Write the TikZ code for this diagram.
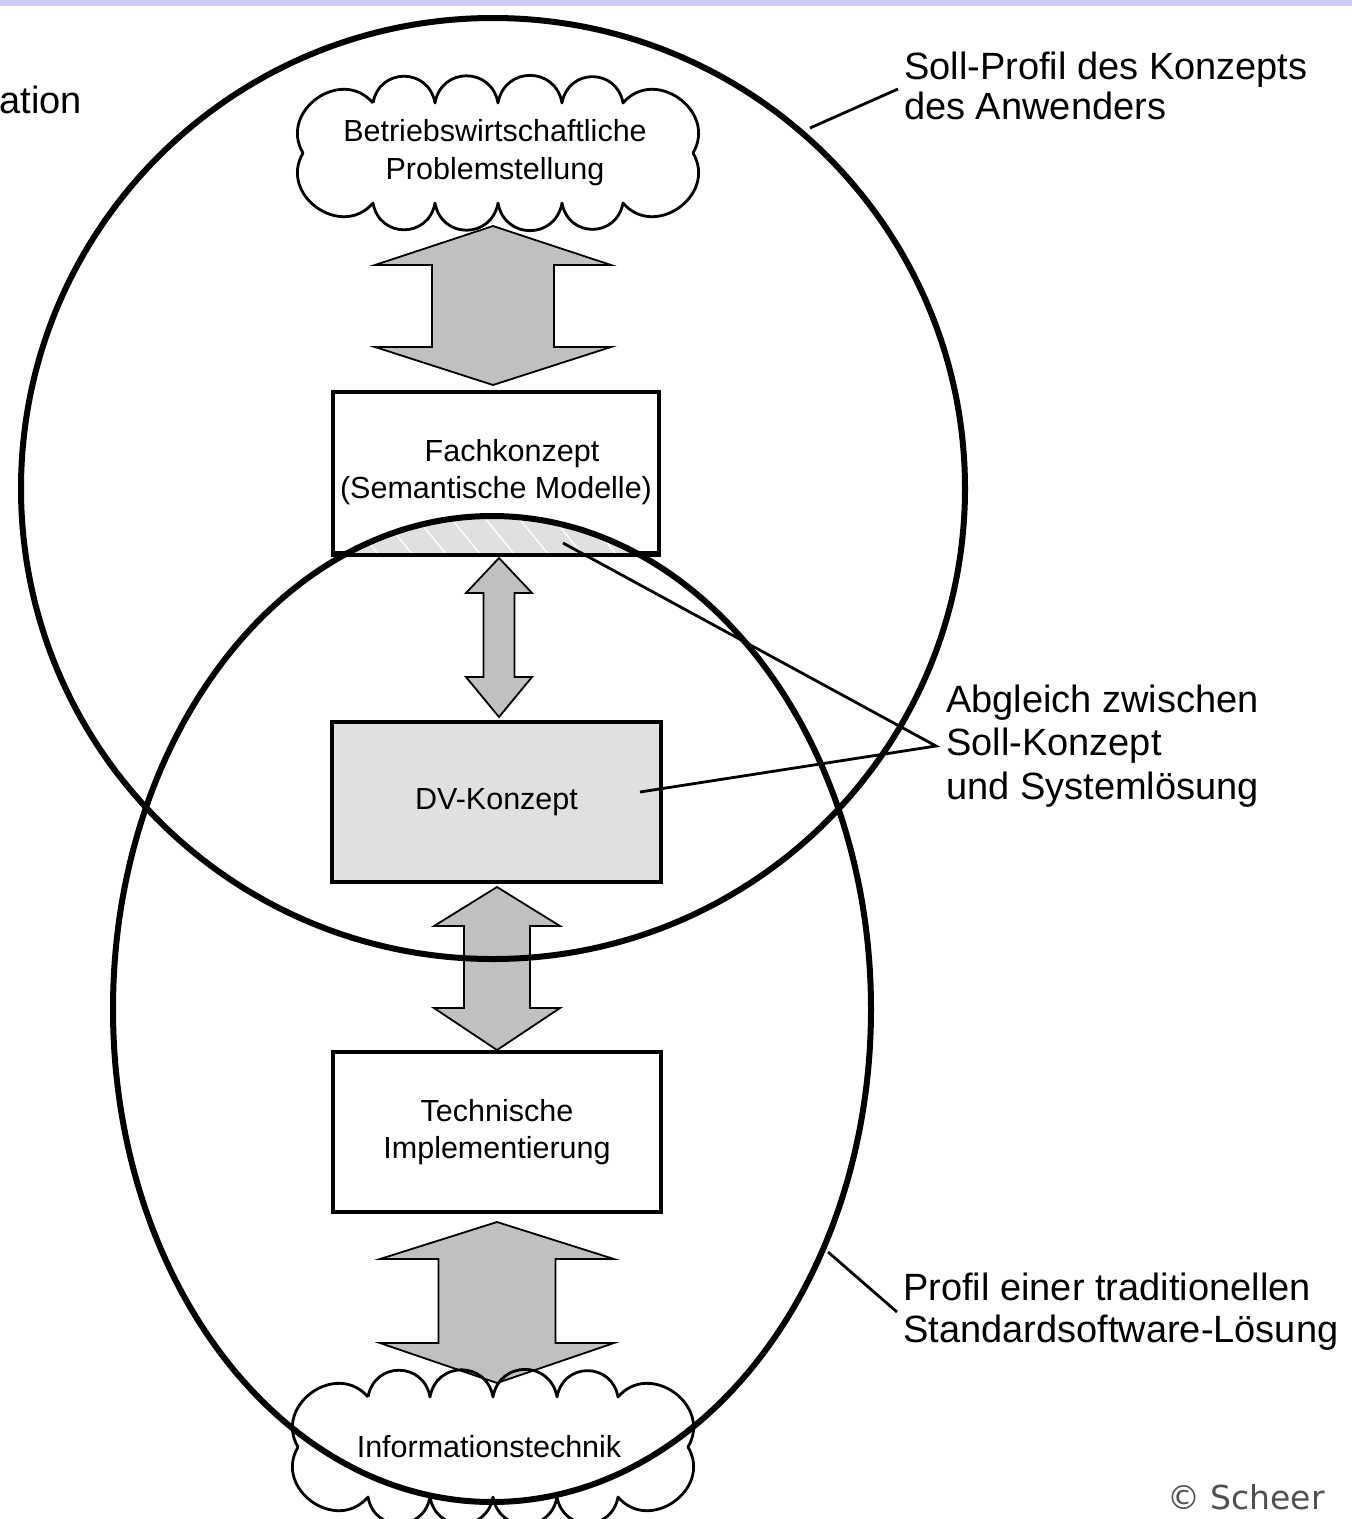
\documentclass[tikz,border=0pt]{standalone}
\usepackage{fontspec}
\setmainfont{Liberation Sans}
\newfontfamily\dejavu{DejaVu Sans}
\definecolor{bandcol}{HTML}{CCCCFF}
\definecolor{arrowgray}{HTML}{C0C0C0}
\definecolor{boxgray}{HTML}{E0E0E0}
\definecolor{copygray}{HTML}{505050}
\newcommand{\blockarrow}[7]{%
  \draw[barrow] (#1,#2) -- ({#1+#6},#3) -- ({#1+#7},#3) -- ({#1+#7},#4) -- ({#1+#6},#4)
   -- (#1,#5) -- ({#1-#6},#4) -- ({#1-#7},#4) -- ({#1-#7},#3) -- ({#1-#6},#3) -- cycle;}
\newcommand{\cloudshape}{%
  (373,103) to[cbump] (435,103) to[cbump] (498,103) to[cbump] (562,103) to[cbump] (623,103)
  to[ccorner] (693,153) to[ccorner] (623,203)
  to[cbump] (562,203) to[cbump] (498,203) to[cbump] (435,203) to[cbump] (373,203)
  to[ccorner] (303,153) to[ccorner] (373,103)}
\begin{document}
\begin{tikzpicture}[x=1pt,y=-1pt,
  boxnode/.style={draw, line width=4pt, inner sep=0pt, align=center,
    font=\fontsize{30.5}{37}\selectfont},
  barrow/.style={draw, line width=1.8pt, fill=arrowgray, line join=miter},
  ell/.style={line width=6pt},
  lead/.style={line width=2.8pt},
  lbl/.style={inner sep=0pt, anchor=west, align=left},
  cloudline/.style={line width=2.8pt, line join=round},
  cbump/.style={bend left=80, looseness=1.5},
  ccorner/.style={bend left=85, looseness=1.45},
  cloudtxt/.style={inner sep=0pt, align=center, font=\fontsize{30.5}{38}\selectfont}]
\useasboundingbox (0,0) rectangle (1352,1519);
\fill[bandcol] (0,0) rectangle (1352,6);

% block arrows
\blockarrow{493}{226}{265}{347}{385}{118}{61}
\blockarrow{499}{558}{593}{677}{717}{33}{15.5}
\blockarrow{497}{887}{926}{1008}{1050}{63}{33}
\blockarrow{497}{1222}{1259}{1343}{1383}{117}{58.5}

% clouds
\draw[cloudline] \cloudshape;
\node[cloudtxt] (problem) at (495,153) {Betriebswirtschaftliche\\Problemstellung};
\draw[cloudline, shift={(-5,1294)}] \cloudshape;
\node[cloudtxt] (infotech) at (489,1447) {Informationstechnik};

% boxes
\node[boxnode, fill=white, minimum width=326pt, minimum height=161pt] (fach) at (496,472.5)
  {\hspace*{32pt}Fachkonzept\\(Semantische Modelle)};
\node[boxnode, fill=boxgray, minimum width=329pt, minimum height=160pt] (dv) at (496.5,802)
  {DV-Konzept};
\node[boxnode, fill=white, minimum width=328pt, minimum height=160pt] (tech) at (497,1132)
  {Technische\\Implementierung};

% hatched overlap
\begin{scope}
  \clip (492,1009) ellipse [x radius=379.5, y radius=493.5];
  \clip (335,394) rectangle (657,553);
  \fill[boxgray] (300,380) rectangle (700,560);
  \foreach \i in {0,...,12}
    \draw[white, line width=1.3pt] ({300+\i*34},500) -- ++(45,55);
\end{scope}
\draw[line width=4pt] (fach.south west) -- (fach.south east);

% labels
\node[lbl, font=\fontsize{38}{40}\selectfont] (soll) at (904,86)
  {Soll-Profil des Konzepts\\des Anwenders};
\node[lbl, font=\fontsize{38}{43.5}\selectfont] (abg) at (946,746)
  {Abgleich zwischen\\Soll-Konzept\\und Systemlösung};
\node[lbl, font=\fontsize{38}{42}\selectfont] (prof) at (903,1312)
  {Profil einer traditionellen\\Standardsoftware-Lösung};
\node[inner sep=0pt, anchor=east, font=\fontsize{38}{40}\selectfont] (ation) at (82,100) {ation};
\node[inner sep=0pt, font=\dejavu\fontsize{33}{36}\selectfont, text=copygray] (copy) at (1246,1497) {© Scheer};

% leader lines
\coordinate (ulpt) at (810,128);
\coordinate (llpt) at (828,1252);
\coordinate (lenspt) at (563,543);
\coordinate (dvpt) at (640,792);
\draw[lead] (ulpt) -- ([xshift=-6pt,yshift=-3pt]soll.west);
\draw[lead] (llpt) -- ([xshift=-6pt]prof.west);
\draw[lead] (lenspt) -- ([xshift=-10pt]abg.west) -- (dvpt);

% ellipses
\draw[ell] (493,488.5) ellipse [x radius=472, y radius=470.5];
\draw[ell] (492,1009) ellipse [x radius=379, y radius=493];
\end{tikzpicture}
\end{document}
